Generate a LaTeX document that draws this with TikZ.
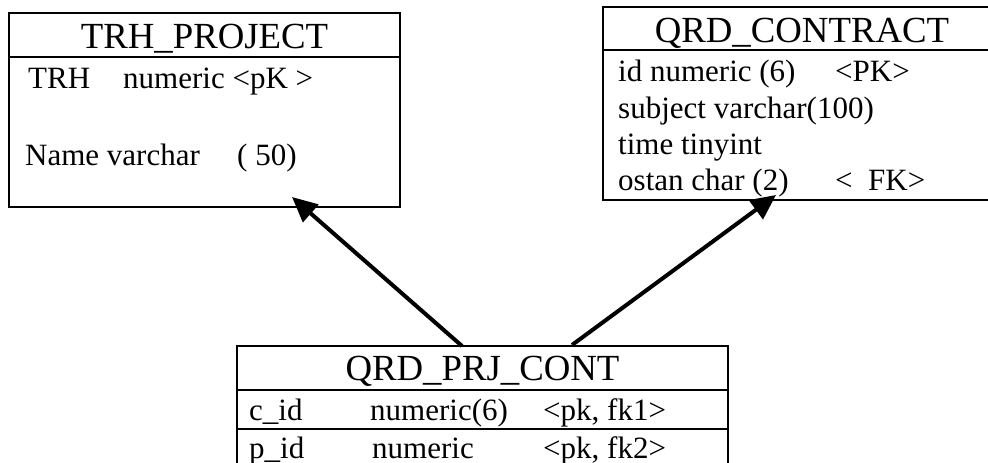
\documentclass[tikz,border=0pt]{standalone}
\usepackage{fontspec}
\setmainfont{Liberation Serif}
\usetikzlibrary{arrows.meta}
\tikzset{
  table/.style={draw, line width=2.3pt, anchor=north west, inner sep=0pt, outer sep=0pt},
  sep/.style={line width=2.3pt},
  title/.style={anchor=base, inner sep=0pt, font=\fontsize{36.8}{40}\selectfont},
  field/.style={anchor=base west, inner sep=0pt, font=\fontsize{31}{34}\selectfont},
  link/.style={line width=4pt, -{Triangle[length=25pt,width=23pt]}},
}
\begin{document}
\begin{tikzpicture}[x=1pt,y=-1pt]
\useasboundingbox (0,0) rectangle (988,463);
% TRH_PROJECT
\node[table, minimum width=391pt, minimum height=194pt] (proj) at (9,13) {};
\draw[sep] (9,57) -- (400,57);
\node[title] (projT) at (204.5,48) {TRH\_PROJECT};
\node[field] (p1a) at (28,88) {TRH};
\node[field] (p1b) at (123,88) {numeric <pK >};
\node[field] (p2a) at (25,165) {Name varchar};
\node[field] (p2b) at (237,165) {( 50)};
% QRD_CONTRACT
\node[table, minimum width=400pt, minimum height=193pt] (cont) at (603,7) {};
\draw[sep] (603,50) -- (1003,50);
\node[title] (contT) at (802,42) {QRD\_CONTRACT};
\node[field] (c1a) at (618,81) {id numeric (6)};
\node[field] (c1b) at (835,81) {<PK>};
\node[field] (c2) at (618,118) {subject varchar(100)};
\node[field] (c3) at (618,154) {time tinyint};
\node[field] (c4a) at (618,190) {ostan char (2)};
\node[field] (c4b) at (835,190) {<\ \ FK>};
% QRD_PRJ_CONT
\node[table, minimum width=491pt, minimum height=140pt] (prj) at (237,346) {};
\draw[sep] (237,390) -- (728,390);
\draw[sep] (237,429) -- (728,429);
\node[title] (prjT) at (482.5,380) {QRD\_PRJ\_CONT};
\node[field] (r1a) at (249,420) {c\_id};
\node[field] (r1b) at (370,420) {numeric(6)};
\node[field] (r1c) at (543,420) {<pk, fk1>};
\node[field] (r2a) at (249,458) {p\_id};
\node[field] (r2b) at (372,458) {numeric};
\node[field] (r2c) at (543,458) {<pk, fk2>};
% connectors
\coordinate (s1) at (462,346);
\coordinate (e1) at (292,197);
\coordinate (s2) at (572,345);
\coordinate (e2) at (776,195);
\draw[link] (s1) -- (e1);
\draw[link] (s2) -- (e2);
\end{tikzpicture}
\end{document}
